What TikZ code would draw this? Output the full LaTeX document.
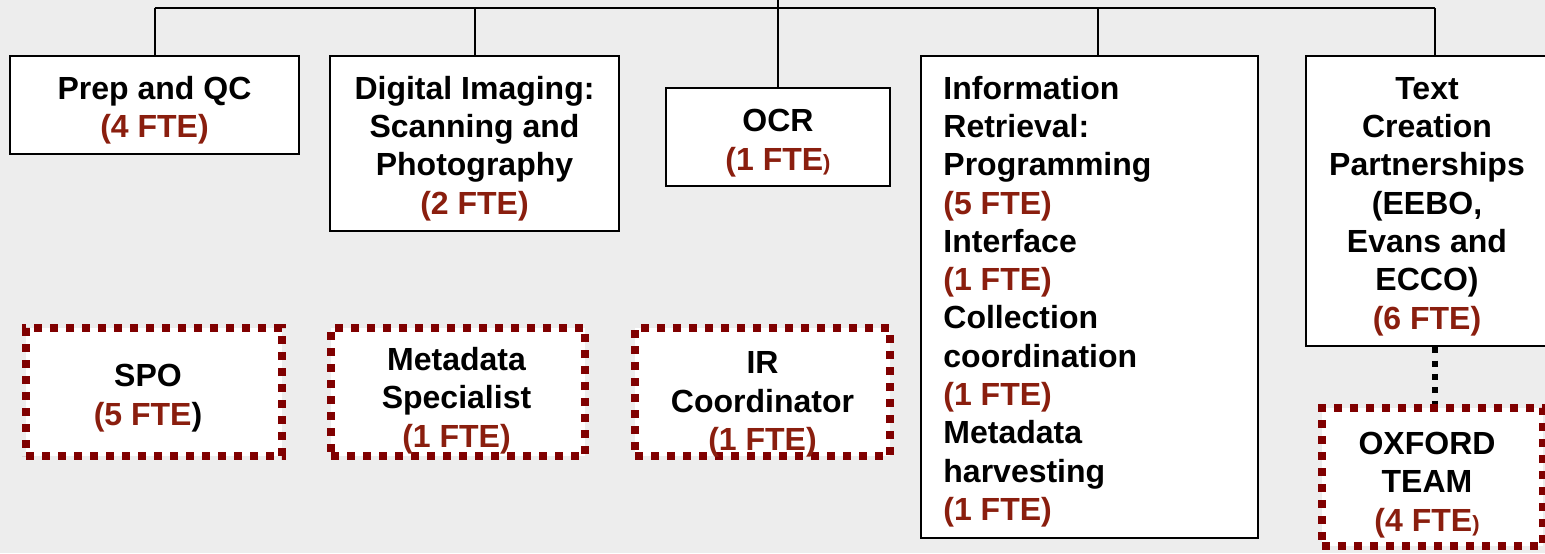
\documentclass[tikz,border=0pt]{standalone}
\usepackage{fontspec}
\setmainfont{Liberation Sans}
\usetikzlibrary{fit}
\definecolor{bgc}{RGB}{237,237,237}
\definecolor{fte}{RGB}{138,30,14}
\definecolor{dashred}{RGB}{128,0,0}
\newcommand{\fte}[1]{\textcolor{fte}{#1}}
\newcommand{\smallparen}{\textcolor{fte}{\fontsize{11}{11}\selectfont)}}
\begin{document}
\begin{tikzpicture}[x=0.5pt,y=-0.5pt,
  solidbox/.style={draw=black, line width=1.1pt, fill=white, inner sep=0pt},
  dotbox/.style={draw=dashred, line width=3.9pt, dash pattern=on 3.9pt off 4.1pt, fill=white, inner sep=0pt},
  txt/.style={inner sep=0pt, align=center, font=\fontsize{16}{19.15}\selectfont\bfseries},
  ltxt/.style={inner sep=0pt, align=left, anchor=west, font=\fontsize{16}{19.15}\selectfont\bfseries},
  conn/.style={draw=black, line width=1pt},
  dotconn/.style={draw=black, line width=3pt, dash pattern=on 3pt off 3.7pt}]
\fill[bgc] (0,0) rectangle (1545,553);
\useasboundingbox (0,0) rectangle (1545,553);

% boxes
\node[solidbox, fit={(10,56) (299,154)}] (prep) {};
\node[solidbox, fit={(330,56) (619,231)}] (dig) {};
\node[solidbox, fit={(666,88) (890,186)}] (ocr) {};
\node[solidbox, fit={(921,56) (1258,538)}] (ir) {};
\node[solidbox, fit={(1306,56) (1564,346)}] (tcp) {};

\node[dotbox, fit={(26,328) (282,456)}] (spo) {};
\node[dotbox, fit={(331,328) (585,456)}] (meta) {};
\node[dotbox, fit={(635,328) (890,456)}] (irc) {};
\node[dotbox, fit={(1322,408) (1543,546)}] (ox) {};

% texts
\node[txt] (prepT) at (154.5,110) {Prep and QC\\\fte{(4 FTE)}};
\node[txt] (digT) at (474.5,148.5) {Digital Imaging:\\Scanning and\\Photography\\\fte{(2 FTE)}};
\node[txt] (ocrT) at (778,143) {OCR\\\fte{(1 FTE}\smallparen};
\node[ltxt] (irT) at (943,301.5) {Information\\Retrieval:\\Programming\\\fte{(5 FTE)}\\Interface\\\fte{(1 FTE)}\\Collection\\coordination\\\fte{(1 FTE)}\\Metadata\\harvesting\\\fte{(1 FTE)}};
\node[txt] (tcpT) at (1427,206.5) {Text\\Creation\\Partnerships\\(EEBO,\\Evans and\\ECCO)\\\fte{(6 FTE)}};
\node[txt] (spoT) at (148,398) {SPO\\\fte{(5 FTE}{)}};
\node[txt] (metaT) at (456.5,400.5) {Metadata\\Specialist\\\fte{(1 FTE)}};
\node[txt] (ircT) at (762.5,404.5) {IR\\Coordinator\\\fte{(1 FTE)}};
\node[txt] (oxT) at (1427,485) {OXFORD\\TEAM\\\fte{(4 FTE}\smallparen};

% connectors
\coordinate (root) at (778,0);
\coordinate (busL) at (154.5,8);
\coordinate (busR) at (1435,8);
\coordinate (irTop) at (1098,56);
\draw[conn] (root) -- (ocr.north);
\draw[conn] (busL) -- (busR);
\draw[conn] (busL) -- (prep.north);
\draw[conn] (dig.north |- busL) -- (dig.north);
\draw[conn] (irTop |- busL) -- (irTop);
\draw[conn] (busR) -- (tcp.north);
\draw[dotconn] (tcp.south) -- (tcp.south |- ox.north);
\end{tikzpicture}
\end{document}
